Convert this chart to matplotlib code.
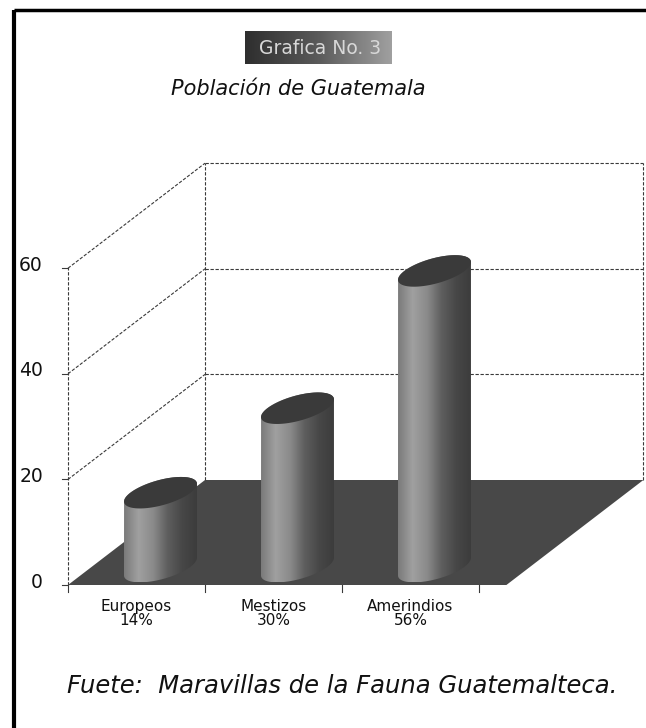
import numpy as np
import matplotlib
matplotlib.use('Agg')
import matplotlib.pyplot as plt
from matplotlib.path import Path
from matplotlib.patches import PathPatch, Polygon
from matplotlib.colors import LinearSegmentedColormap

# datos
categorias = ['Europeos', 'Mestizos', 'Amerindios']
porcentajes = [14, 30, 56]
yticks = [0, 20, 40, 60]

titulo = 'Grafica No. 3'
subtitulo = 'Población de Guatemala'
fuente = 'Fuete:  Maravillas de la Fauna Guatemalteca.'

# proyeccion oblicua (pixeles)
X0, Y0 = 68, 585       # esquina frontal izquierda
CW = 137               # ancho de categoria
SY = 5.28              # px por unidad
DX, DY = 137, 105      # desplazamiento de profundidad
NCAT = 3.2             # ancho del piso en categorias
YMAX = yticks[-1]


def proj(x, v, z):
    return X0 + x * CW + z * DX, Y0 - v * SY - z * DY


fig = plt.figure(figsize=(6.46, 7.28), dpi=100)
ax = fig.add_axes([0, 0, 1, 1])
ax.set_xlim(0, 646)
ax.set_ylim(728, 0)
ax.axis('off')

FONT = 'DejaVu Sans'
grid_kw = dict(color='#3a3a3a', lw=0.8, ls=(0, (3, 1.5)), zorder=1)

# paredes
for v in yticks[1:]:
    xa, ya = proj(0, v, 0)
    xb, yb = proj(0, v, 1)
    ax.plot([xa, xb], [ya, yb], **grid_kw)
    xc, yc = proj(NCAT, v, 1)
    ax.plot([xb, xc], [yb, yc], **grid_kw)
for xx in [0, NCAT]:
    xa, ya = proj(xx, 0, 1)
    xb, yb = proj(xx, YMAX, 1)
    ax.plot([xa, xb], [ya, yb], **grid_kw)
xa, ya = proj(0, 0, 0)
xb, yb = proj(0, YMAX, 0)
ax.plot([xa, xb], [ya, yb], **grid_kw)

# marcas y etiquetas del eje y
for v in yticks:
    x, y = proj(0, v, 0)
    ax.plot([x - 6, x], [y, y], color='#3a3a3a', lw=0.8)
    ax.text(x - 25, y - 3, str(v), ha='right', va='center', fontsize=13.5,
            family=FONT, color='#111')

# piso
piso = [proj(0, 0, 0), proj(NCAT, 0, 0), proj(NCAT, 0, 1), proj(0, 0, 1)]
ax.add_patch(Polygon(piso, closed=True, fc='#484848', ec='none', zorder=2))

for k in range(len(categorias) + 1):
    x, y = proj(k, 0, 0)
    ax.plot([x, x], [y, y + 7], color='#3a3a3a', lw=0.8)

# cilindros
cmap_cil = LinearSegmentedColormap.from_list(
    'cil', ['#7a7a7a', '#a0a0a0', '#8a8a8a', '#5e5e5e', '#474747', '#3c3c3c'])
grad = np.linspace(0, 1, 256).reshape(1, -1)

ZC, RZ, RX = 0.175, 0.15, 0.22
t = np.linspace(0, 2 * np.pi, 200)
t1 = np.arctan2(DX * RZ, RX * CW)

for i, (cat, p) in enumerate(zip(categorias, porcentajes)):
    xc = i + 0.5

    def elipse(v, tt):
        px, py = proj(xc + RX * np.cos(tt), v, ZC + RZ * np.sin(tt))
        return np.column_stack([px, py])

    frente = elipse(0, np.linspace(t1, t1 - np.pi, 100))
    atras = elipse(p, np.linspace(t1 - np.pi, t1 - 2 * np.pi, 100))
    cuerpo = np.vstack([frente, atras, frente[:1]])
    path = Path(cuerpo)
    patch = PathPatch(path, fc='none', ec='none')
    ax.add_patch(patch)
    x_min, x_max = cuerpo[:, 0].min(), cuerpo[:, 0].max()
    y_min, y_max = cuerpo[:, 1].min(), cuerpo[:, 1].max()
    im = ax.imshow(grad, cmap=cmap_cil, aspect='auto',
                   extent=[x_min, x_max, y_max, y_min], zorder=3)
    im.set_clip_path(patch)

    tapa = elipse(p, t)
    ax.add_patch(Polygon(tapa, closed=True, fc='#3a3a3a', ec='none', zorder=4))

    lx, ly = proj(xc, 0, 0)
    ax.text(lx, ly + 14, f'{cat}\n{p}%', ha='center', va='top', fontsize=11,
            family=FONT, color='#111', linespacing=0.95)

# titulo con caja degradada
bx0, bx1, by0, by1 = 245, 392, 31, 64
cmap_box = LinearSegmentedColormap.from_list('box', ['#2e2e2e', '#5a5a5a', '#a0a0a0'])
ax.imshow(grad, cmap=cmap_box, aspect='auto', extent=[bx0, bx1, by1, by0], zorder=3)
ax.text((bx0 + bx1) / 2 + 2, (by0 + by1) / 2 + 1, titulo, ha='center', va='center',
        fontsize=13.5, family=FONT, color='#d8d8d8', zorder=4)

ax.text(298, 89, subtitulo, ha='center', va='center', fontsize=15,
        style='italic', family=FONT, color='#111')
ax.text(342, 686, fuente, ha='center', va='center', fontsize=17.5,
        style='italic', family=FONT, color='#111')

# marco escaneado
ax.plot([14, 646], [10, 10], color='black', lw=2.5, solid_capstyle='butt')
ax.plot([14, 14], [10, 728], color='black', lw=3, solid_capstyle='butt')

ax.set_xlim(0, 646)
ax.set_ylim(728, 0)
fig.savefig('out.png', dpi=100)
